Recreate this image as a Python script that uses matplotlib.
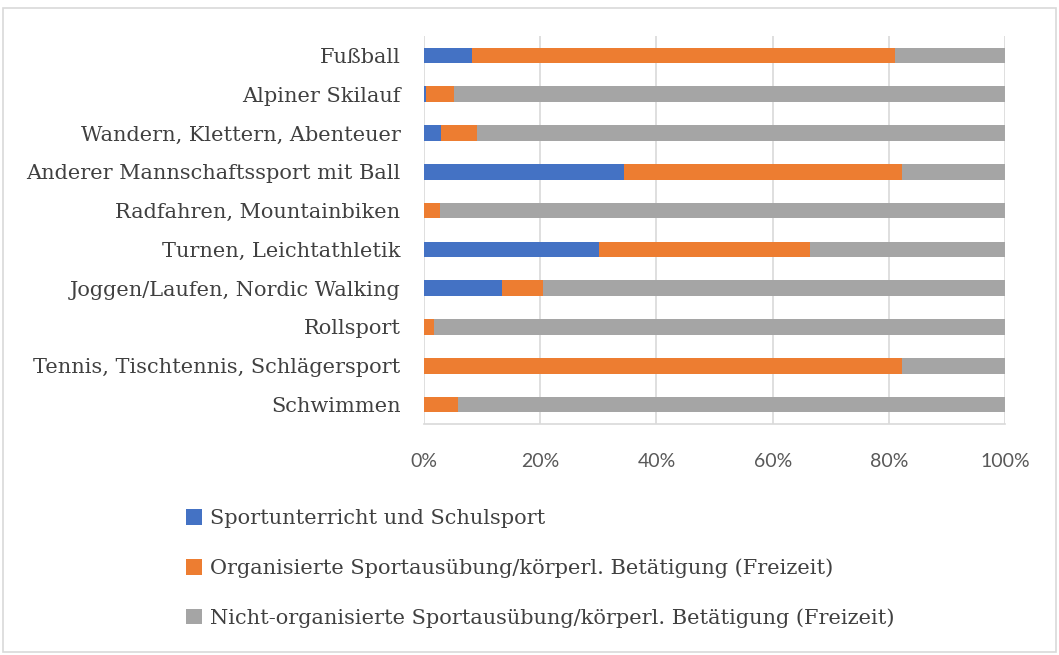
import matplotlib.pyplot as plt
from matplotlib.patches import Rectangle

# categories listed top to bottom
categories = ['Fußball', 'Alpiner Skilauf', 'Wandern, Klettern, Abenteuer',
              'Anderer Mannschaftssport mit Ball', 'Radfahren, Mountainbiken',
              'Turnen, Leichtathletik', 'Joggen/Laufen, Nordic Walking',
              'Rollsport', 'Tennis, Tischtennis, Schlägersport', 'Schwimmen']

schulsport = [8.3, 0.3, 3.0, 34.5, 0.0, 30.1, 13.5, 0.0, 0.0, 0.0]
organisiert = [72.8, 4.8, 6.1, 47.7, 2.8, 36.4, 6.9, 1.7, 82.2, 5.8]
nicht_org = [100 - a - b for a, b in zip(schulsport, organisiert)]

series_labels = ['Sportunterricht und Schulsport',
                 'Organisierte Sportausübung/körperl. Betätigung (Freizeit)',
                 'Nicht-organisierte Sportausübung/körperl. Betätigung (Freizeit)']
colors = ['#4472C4', '#ED7D31', '#A5A5A5']

text_col = '#404040'

fig = plt.figure(figsize=(10.59, 6.55), dpi=100)
ax = fig.add_axes([0.4004, 0.3527, 0.5487, 0.5924])

y = list(range(len(categories)))
left = [0.0] * len(categories)
handles = []
for vals, lab, col in zip([schulsport, organisiert, nicht_org], series_labels, colors):
    h = ax.barh(y, vals, left=left, height=0.4, color=col, label=lab, zorder=3)
    handles.append(h)
    left = [l + v for l, v in zip(left, vals)]

ax.set_xlim(0, 100)
ax.set_ylim(len(categories) - 0.5, -0.5)
ax.set_yticks(y)
ax.set_yticklabels(categories, fontsize=15, family='DejaVu Serif', color=text_col)
ax.set_xticks([0, 20, 40, 60, 80, 100])
ax.set_xticklabels(['0%', '20%', '40%', '60%', '80%', '100%'],
                   fontsize=14, family='Lato', color='#595959')
ax.tick_params(axis='both', length=0)
ax.tick_params(axis='x', pad=21)
ax.tick_params(axis='y', pad=17)
ax.grid(axis='x', color='#D9D9D9', linewidth=1.2, zorder=0)
for s in ['top', 'right', 'left']:
    ax.spines[s].set_visible(False)
ax.spines['bottom'].set_color('#D9D9D9')
ax.spines['bottom'].set_linewidth(1.2)

fig.legend(handles=handles, labels=series_labels, loc='upper left',
           bbox_to_anchor=(0.158, 0.251), frameon=False, handlelength=0.75,
           handleheight=0.75, handletextpad=0.4, labelspacing=1.45,
           prop={'family': 'DejaVu Serif', 'size': 15}, labelcolor=text_col)

# chart frame
fig.patches.append(Rectangle((0.003, 0.004), 0.994, 0.984, transform=fig.transFigure,
                             fill=False, edgecolor='#D9D9D9', linewidth=1.2))

fig.savefig('out.png', dpi=100)
